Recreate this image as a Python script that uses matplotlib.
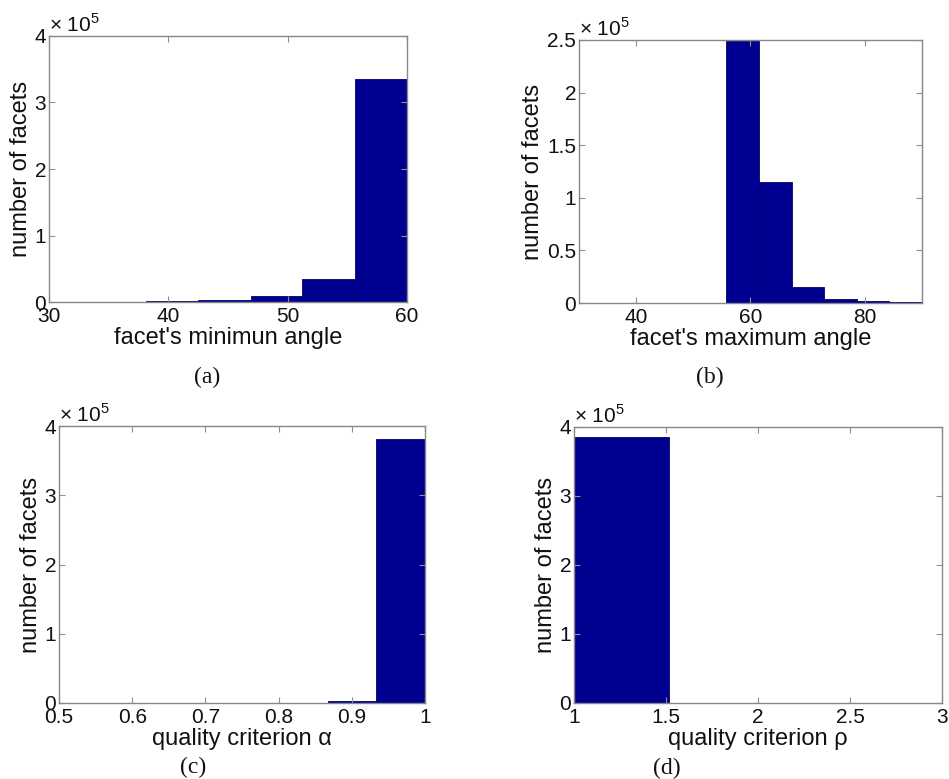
import numpy as np
import matplotlib.pyplot as plt
from matplotlib.ticker import FuncFormatter

plt.rcParams["font.family"] = ["Liberation Sans", "DejaVu Sans"]

# (a) facet's minimum angle
edges_a = [16.2, 20.6, 25.0, 29.4, 33.8, 38.1, 42.5, 46.9, 51.2, 55.6, 60.0]
counts_a = [0, 0, 0, 0, 200, 1200, 3000, 9000, 34500, 335500]

# (b) facet's maximum angle
edges_b = [33.0, 38.7, 44.4, 50.1, 55.8, 61.5, 67.2, 72.9, 78.6, 84.3, 90.0]
counts_b = [300, 100, 100, 200, 249000, 114800, 14900, 4100, 1600, 600]

# (c) quality criterion alpha
edges_c = [0.333, 0.400, 0.467, 0.533, 0.600, 0.667, 0.733, 0.800, 0.867, 0.933, 1.000]
counts_c = [0, 0, 0, 0, 0, 0, 0, 0, 2900, 381700]

# (d) quality criterion rho
edges_d = [1.0, 1.517, 2.034, 2.551, 3.068]
counts_d = [385000, 0, 0, 0]

panels = [
    dict(edges=edges_a, counts=counts_a, xlim=(30, 60), xticks=[30, 40, 50, 60],
         ylim=(0, 4e5), yticks=[0, 1e5, 2e5, 3e5, 4e5],
         xlabel="facet's minimun angle", cap="(a)",
         pos=[0.0516, 0.6123, 0.3773, 0.3415], cap_xy=(0.218, 0.516)),
    dict(edges=edges_b, counts=counts_b, xlim=(30, 90), xticks=[40, 60, 80],
         ylim=(0, 2.5e5), yticks=[0, 0.5e5, 1e5, 1.5e5, 2e5, 2.5e5],
         xlabel="facet's maximum angle", cap="(b)",
         pos=[0.6101, 0.6110, 0.3614, 0.3377], cap_xy=(0.748, 0.516)),
    dict(edges=edges_c, counts=counts_c, xlim=(0.5, 1.0),
         xticks=[0.5, 0.6, 0.7, 0.8, 0.9, 1.0],
         ylim=(0, 4e5), yticks=[0, 1e5, 2e5, 3e5, 4e5],
         xlabel="quality criterion α", cap="(c)",
         pos=[0.0622, 0.0976, 0.3856, 0.3555], cap_xy=(0.203, 0.0154)),
    dict(edges=edges_d, counts=counts_d, xlim=(1, 3), xticks=[1, 1.5, 2, 2.5, 3],
         ylim=(0, 4e5), yticks=[0, 1e5, 2e5, 3e5, 4e5],
         xlabel="quality criterion ρ", cap="(d)",
         pos=[0.6048, 0.0976, 0.3878, 0.3543], cap_xy=(0.703, 0.0141)),
]

fig = plt.figure(figsize=(9.49, 7.79), dpi=100)

for p in panels:
    ax = fig.add_axes(p["pos"])
    e = np.array(p["edges"])
    ax.bar(e[:-1], p["counts"], width=np.diff(e), align="edge",
           color="#000090", edgecolor="#00006a", linewidth=0.6)
    ax.set_xlim(*p["xlim"])
    ax.set_ylim(*p["ylim"])
    ax.set_xticks(p["xticks"])
    ax.set_yticks(p["yticks"])
    ax.xaxis.set_major_formatter(FuncFormatter(lambda v, _: "%g" % v))
    ax.yaxis.set_major_formatter(FuncFormatter(lambda v, _: "%g" % (v / 1e5)))
    ax.tick_params(direction="in", top=True, right=True, length=4,
                   width=0.8, color="#909090", labelsize=15,
                   labelcolor="#111111")
    ax.tick_params(axis="x", pad=3.5)
    ax.tick_params(axis="y", pad=2)
    for s in ax.spines.values():
        s.set_color("#888888")
        s.set_linewidth(1.0)
    ax.set_xlabel(p["xlabel"], fontsize=17, labelpad=1, color="#111111")
    ax.set_ylabel("number of facets", fontsize=17, labelpad=2, color="#111111")
    ax.text(0.0, 1.0, r"× 10$^{\mathregular{5}}$", transform=ax.transAxes,
            ha="left", va="bottom", fontsize=15, color="#111111")
    fig.text(p["cap_xy"][0], p["cap_xy"][1], p["cap"], ha="center", va="center",
             fontsize=17, family="Liberation Serif", color="#111111")

fig.savefig("out.png", dpi=100)
